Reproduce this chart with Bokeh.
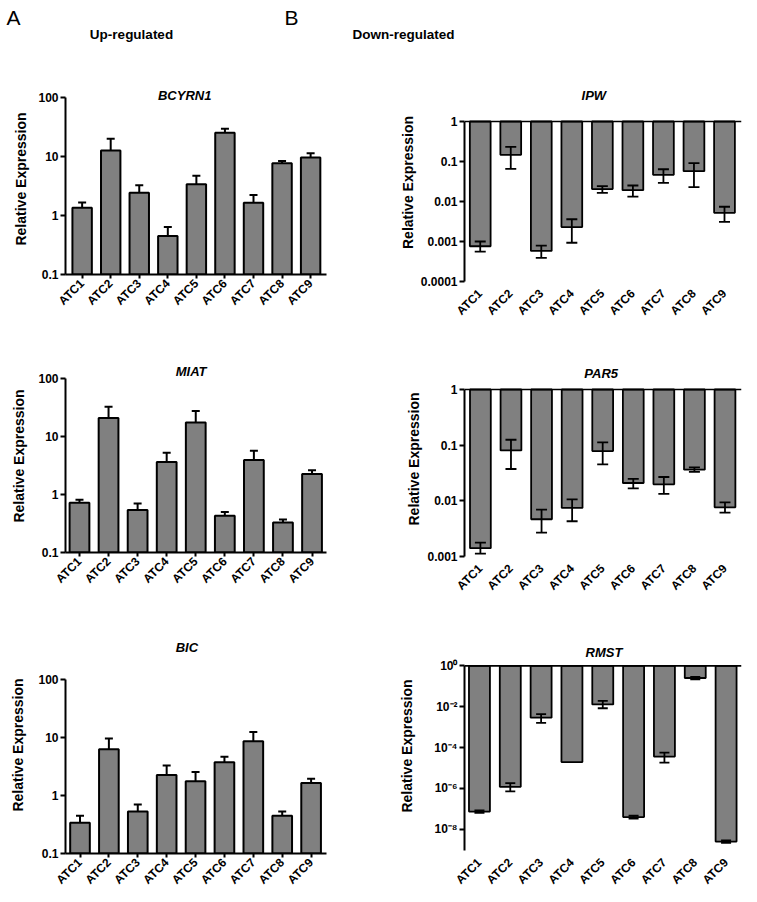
import math
from bokeh.plotting import figure
from bokeh.models import (Range1d, FixedTicker, CustomJSTickFormatter, Span,
                          Label, Whisker, ColumnDataSource, TeeHead)
from bokeh.layouts import column, row
from bokeh.embed import file_html
from bokeh.resources import INLINE

FONT = "Liberation Sans"
BAR = "#808080"

categories = ["ATC1", "ATC2", "ATC3", "ATC4", "ATC5", "ATC6", "ATC7", "ATC8", "ATC9"]

# Up-regulated (mean, upper error)
bcyrn1 = [1.35, 12.7, 2.42, 0.45, 3.38, 25.2, 1.64, 7.65, 9.66]
bcyrn1_hi = [1.66, 20.0, 3.26, 0.64, 4.73, 29.4, 2.23, 8.37, 11.3]
miat = [0.72, 20.8, 0.54, 3.62, 17.5, 0.43, 3.92, 0.33, 2.25]
miat_hi = [0.81, 32.7, 0.70, 5.25, 27.5, 0.50, 5.68, 0.37, 2.63]
bic = [0.34, 6.3, 0.53, 2.26, 1.77, 3.75, 8.7, 0.45, 1.64]
bic_hi = [0.45, 9.65, 0.70, 3.3, 2.54, 4.67, 12.5, 0.53, 1.96]

# Down-regulated (mean, upper, lower error)
ipw = [7.6e-4, 0.147, 5.8e-4, 2.3e-3, 0.0204, 0.0192, 0.0464, 0.0573, 5.2e-3]
ipw_hi = [1.0e-3, 0.233, 7.9e-4, 3.6e-3, 0.0242, 0.0251, 0.064, 0.0908, 7.4e-3]
ipw_lo = [5.6e-4, 0.0656, 3.9e-4, 9.3e-4, 0.0165, 0.0133, 0.0293, 0.0228, 3.1e-3]
par5 = [1.41e-3, 0.0805, 4.67e-3, 7.45e-3, 0.0784, 0.0209, 0.0198, 0.0363, 7.66e-3]
par5_hi = [1.78e-3, 0.125, 6.95e-3, 0.0106, 0.112, 0.0247, 0.0268, 0.0399, 9.4e-3]
par5_lo = [1.13e-3, 0.0373, 2.69e-3, 4.3e-3, 0.0452, 0.0168, 0.0133, 0.033, 6.16e-3]
rmst = [7.2e-8, 1.18e-6, 2.9e-3, 1.94e-5, 0.013, 3.9e-8, 3.6e-5, 0.256, 2.45e-9]
rmst_hi = [8.3e-8, 1.78e-6, 4.3e-3, None, 0.0195, 4.5e-8, 5.6e-5, 0.29, 2.8e-9]
rmst_lo = [6.2e-8, 7.1e-7, 1.6e-3, None, 8.4e-3, 3.3e-8, 1.8e-5, 0.22, 2.1e-9]

up_ticks = [0.1, 1, 10, 100]
up_labels = ["0.1", "1", "10", "100"]
ipw_ticks = [1e-4, 1e-3, 1e-2, 1e-1, 1]
ipw_labels = ["0.0001", "0.001", "0.01", "0.1", "1"]
par5_ticks = [1e-3, 1e-2, 1e-1, 1]
par5_labels = ["0.001", "0.01", "0.1", "1"]
rmst_ticks = [1e-8, 1e-6, 1e-4, 1e-2, 1]
rmst_labels = ["10\u207b\u2078", "10\u207b\u2076", "10\u207b\u2074", "10\u207b\u00b2", "10\u2070"]

YFMT = """
let best = 0;
for (let j = 0; j < tv.length; j++) {
  if (Math.abs(Math.log10(tv[j]) - Math.log10(tick)) < Math.abs(Math.log10(tv[best]) - Math.log10(tick))) best = j;
}
return lab[best];
"""


def panel(title, vals, hi, lo, up, width, fig_top, fig_bot, ax_top, ax_bot, mbl, mbr,
          xr, ylo, yhi, yticks, ylabels, title_x, title_dy, ystand, cap):
    ext = title_dy + 12                      # extra frame space above the axis top
    frame_top = ax_top - ext
    ppd = (ax_bot - ax_top) / (math.log10(yhi) - math.log10(ylo))
    yend = yhi * 10 ** (ext / ppd)
    p = figure(width=width, height=fig_bot - fig_top, x_range=Range1d(*xr),
               y_range=Range1d(ylo, yend), y_axis_type="log", output_backend="svg",
               toolbar_location=None, min_border_left=mbl, min_border_right=mbr,
               min_border_top=frame_top - fig_top, min_border_bottom=fig_bot - ax_bot)
    p.grid.visible = False
    p.outline_line_color = None
    xs = list(range(1, len(categories) + 1))
    if up:
        p.vbar(x=xs, top=vals, bottom=ylo, width=0.68, fill_color=BAR,
               line_color="black", line_width=2)
        src = ColumnDataSource(dict(x=xs, upper=hi, lower=vals))
        w = Whisker(source=src, base="x", upper="upper", lower="lower",
                    dimension="height", line_width=2, line_color="black",
                    upper_head=TeeHead(size=cap, line_width=2, line_color="black"),
                    lower_head=None, level="overlay")
        p.add_layout(w)
    else:
        p.vbar(x=xs, top=yhi, bottom=vals, width=0.68, fill_color=BAR,
               line_color="black", line_width=1.8)
        keep = [i for i in range(len(xs)) if hi[i] is not None]
        src = ColumnDataSource(dict(x=[xs[i] for i in keep], upper=[hi[i] for i in keep],
                                    lower=[lo[i] for i in keep]))
        w = Whisker(source=src, base="x", upper="upper", lower="lower",
                    dimension="height", line_width=1.8, line_color="black",
                    upper_head=TeeHead(size=cap, line_width=1.8, line_color="black"),
                    lower_head=TeeHead(size=cap, line_width=1.8, line_color="black"),
                    level="overlay")
        p.add_layout(w)
        p.add_layout(Span(location=yhi, dimension="width", line_color="black",
                          line_width=1.6))

    # y axis
    ya = p.yaxis[0]
    ya.bounds = (ylo, yhi)
    ya.ticker = FixedTicker(ticks=yticks, minor_ticks=[])
    ya.formatter = CustomJSTickFormatter(args=dict(tv=yticks, lab=ylabels), code=YFMT)
    ya.axis_line_width = 2
    ya.major_tick_line_width = 2
    ya.major_tick_out = 5
    ya.major_tick_in = 0
    ya.minor_tick_line_color = None
    ya.major_label_standoff = 2
    ya.major_label_text_font = FONT
    ya.major_label_text_font_style = "bold"
    ya.major_label_text_font_size = "12px"
    ya.major_label_text_color = "black"
    ya.axis_label = "Relative Expression"
    ya.axis_label_text_font = FONT
    ya.axis_label_text_font_style = "bold"
    ya.axis_label_text_font_size = "14px"
    ya.axis_label_text_color = "black"
    ya.axis_label_standoff = ystand

    # x axis
    xa = p.xaxis[0]
    xa.ticker = FixedTicker(ticks=xs, minor_ticks=[])
    xa.formatter = CustomJSTickFormatter(args=dict(cats=categories),
                                         code="return cats[Math.round(tick) - 1];")
    xa.major_label_orientation = math.pi / 4
    xa.major_label_text_font = FONT
    xa.major_label_text_font_style = "bold"
    xa.major_label_text_font_size = "12px"
    xa.major_label_text_color = "black"
    xa.minor_tick_line_color = None
    if up:
        xa.axis_line_width = 2
        xa.major_tick_line_width = 2
        xa.major_tick_out = 4
        xa.major_tick_in = 0
        xa.major_label_standoff = 3
    else:
        xa.axis_line_color = None
        xa.major_tick_line_color = None
        xa.major_tick_out = 0
        xa.major_tick_in = 0
        xa.major_label_standoff = 10

    p.add_layout(Label(x=title_x, y=yhi, x_units="data", y_units="data",
                       y_offset=title_dy, text=title, text_align="center",
                       text_baseline="middle", text_font=FONT,
                       text_font_style="bold italic", text_font_size="13px",
                       text_color="black"))
    return p


# Left column (up-regulated): page x 0..378
f1 = panel("BCYRN1", bcyrn1, bcyrn1_hi, None, True, 378, 58, 330, 97, 274, 62, 45,
           (0.4175, 9.556), 0.1, 100, up_ticks, up_labels, 4.59, 2, 6, 8)
f2 = panel("MIAT", miat, miat_hi, None, True, 378, 330, 600, 378, 552, 64, 52,
           (0.519, 9.498), 0.1, 100, up_ticks, up_labels, 4.84, 7, 8, 8)
f3 = panel("BIC", bic, bic_hi, None, True, 378, 600, 894, 680, 857, 65, 45,
           (0.498, 9.533), 0.1, 100, up_ticks, up_labels, 4.70, 32, 9, 8)

# Right column (down-regulated): page x 378..749
g1 = panel("IPW", ipw, ipw_hi, ipw_lo, False, 371, 58, 330, 121, 281, 86, 8,
           (0.485, 9.557), 1e-4, 1, ipw_ticks, ipw_labels, 4.72, 26, 2, 11)
g2 = panel("PAR5", par5, par5_hi, par5_lo, False, 371, 330, 600, 389, 556, 79, 1,
           (0.48, 9.54), 1e-3, 1, par5_ticks, par5_labels, 4.95, 16, 2, 11)
g3 = panel("RMST", rmst, rmst_hi, rmst_lo, False, 371, 600, 894, 666, 855, 84, 5,
           (0.515, 9.50), 10 ** -9.05, 1, rmst_ticks, rmst_labels, 5.04, 13, 16, 10)

# Header (page coordinates)
h = figure(width=757, height=58, x_range=Range1d(0, 757), y_range=Range1d(58, 0),
           output_backend="svg", toolbar_location=None, min_border=0)
h.axis.visible = False
h.grid.visible = False
h.outline_line_color = None
for txt, x, y, size, style, align in [
        ("A", 6, 17, "21px", "normal", "left"),
        ("Up-regulated", 131, 33.5, "13.5px", "bold", "center"),
        ("B", 284, 16.5, "21px", "normal", "left"),
        ("Down-regulated", 403, 33.5, "13.5px", "bold", "center")]:
    h.add_layout(Label(x=x, y=y, text=txt, text_font=FONT, text_font_size=size,
                       text_font_style=style, text_baseline="middle", text_align=align,
                       text_color="black"))

panels = row(column(f1, f2, f3), column(g1, g2, g3))
layout = column(h, panels)

with open("out.html", "w") as fh:
    fh.write(file_html(layout, INLINE, title="Relative Expression"))
